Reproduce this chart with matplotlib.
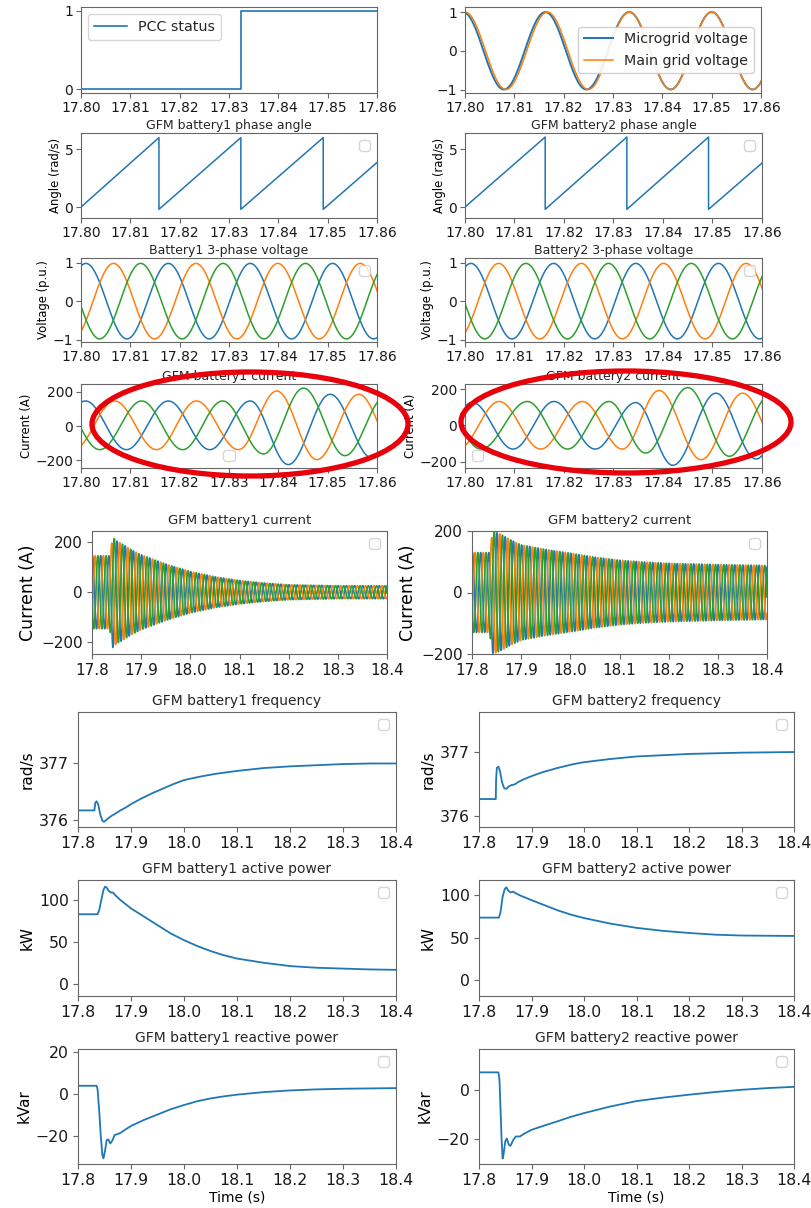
import matplotlib
matplotlib.use("Agg")
import matplotlib.pyplot as plt
import numpy as np
from matplotlib.patches import Ellipse

W, H = 812, 1208
BLUE, ORANGE, GREEN = "#1f77b4", "#ff7f0e", "#2ca02c"

# ---------------- zoomed window 17.80 - 17.86 s ----------------
pcc_t = [17.80, 17.8325, 17.8325, 17.86]
pcc_status = [0, 0, 1, 1]

# grid voltages: times of successive peaks / troughs
micro_t = [17.7913, 17.7996, 17.8079, 17.8163, 17.8246, 17.8333, 17.8417, 17.8500, 17.8583, 17.8667]
micro_v = [-1, 1, -1, 1, -1, 1, -1, 1, -1, 1]
main_t = [17.7917, 17.8000, 17.8083, 17.8167, 17.8250, 17.8333, 17.8417, 17.8500, 17.8583, 17.8667]
main_v = [-1, 1, -1, 1, -1, 1, -1, 1, -1, 1]

# phase angle sawtooth vertices
ang1_t = [17.80, 17.8158, 17.8158, 17.8324, 17.8324, 17.8491, 17.8491, 17.86]
ang1_v = [0.0, 6.0, -0.2, 6.0, -0.2, 6.0, -0.2, 3.85]
ang2_t = [17.80, 17.8162, 17.8162, 17.8327, 17.8327, 17.8492, 17.8492, 17.86]
ang2_v = [0.0, 6.05, -0.2, 6.05, -0.2, 6.05, -0.2, 3.8]

# 3-phase voltages (p.u.): extrema times, phases a/b/c
va1_t = [17.7927, 17.8010, 17.8093, 17.8177, 17.8260, 17.8343, 17.8427, 17.8510, 17.8593, 17.8677]
va1_v = [-0.98, 0.98, -0.98, 0.98, -0.98, 0.98, -0.98, 0.98, -0.98, 0.98]
vb1_t = [17.7983, 17.8066, 17.8149, 17.8233, 17.8316, 17.8399, 17.8483, 17.8566, 17.8649]
vb1_v = [-0.98, 0.98, -0.98, 0.98, -0.98, 0.98, -0.98, 0.98, -0.98]
vc1_t = [17.7955, 17.8038, 17.8121, 17.8205, 17.8288, 17.8371, 17.8455, 17.8538, 17.8621]
vc1_v = [0.98, -0.98, 0.98, -0.98, 0.98, -0.98, 0.98, -0.98, 0.98]

va2_t = [17.7929, 17.8012, 17.8095, 17.8179, 17.8262, 17.8345, 17.8429, 17.8512, 17.8595, 17.8679]
va2_v = [-0.98, 0.98, -0.98, 0.98, -0.98, 0.98, -0.98, 0.98, -0.98, 0.98]
vb2_t = [17.7985, 17.8068, 17.8151, 17.8235, 17.8318, 17.8401, 17.8485, 17.8568, 17.8651]
vb2_v = [-0.98, 0.98, -0.98, 0.98, -0.98, 0.98, -0.98, 0.98, -0.98]
vc2_t = [17.7957, 17.8040, 17.8123, 17.8207, 17.8290, 17.8373, 17.8457, 17.8540, 17.8623]
vc2_v = [0.98, -0.98, 0.98, -0.98, 0.98, -0.98, 0.98, -0.98, 0.98]

# 3-phase currents (A): extrema times and values
ia1_t = [17.7926, 17.8009, 17.8092, 17.8177, 17.8261, 17.8343, 17.8420, 17.8505, 17.8590, 17.8673]
ia1_v = [-138, 146, -138, 146, -138, 146, -225, 185, -187, 180]
ib1_t = [17.7985, 17.8068, 17.8153, 17.8234, 17.8319, 17.8397, 17.8478, 17.8563, 17.8646]
ib1_v = [-138, 146, -138, 146, -138, 204, -196, 185, -185]
ic1_t = [17.7955, 17.8038, 17.8123, 17.8206, 17.8287, 17.8370, 17.8451, 17.8535, 17.8618]
ic1_v = [146, -138, 146, -138, 146, -163, 221, -173, 175]

ia2_t = [17.7932, 17.8015, 17.8097, 17.8180, 17.8263, 17.8345, 17.8420, 17.8507, 17.8588, 17.8670]
ia2_v = [-131, 127, -131, 133, -131, 127, -221, 179, -186, 170]
ib2_t = [17.7986, 17.8069, 17.8153, 17.8237, 17.8318, 17.8392, 17.8477, 17.8561, 17.8644]
ib2_v = [-131, 133, -131, 133, -131, 194, -190, 179, -175]
ic2_t = [17.7949, 17.8032, 17.8126, 17.8207, 17.8291, 17.8365, 17.8450, 17.8534, 17.8617]
ic2_v = [133, -131, 133, -131, 133, -153, 210, -171, 170]

# ---------------- full window 17.8 - 18.4 s ----------------
f_line = 60.0          # Hz
ia_peak = 17.8009      # first phase-a peak
env1_t = [17.80, 17.836, 17.838, 17.842, 17.85, 17.86, 17.88, 17.90, 17.95, 18.00, 18.05, 18.10, 18.15, 18.20, 18.30, 18.40]
env1_a = [146, 146, 170, 222, 205, 195, 170, 150, 113, 83, 62, 47, 37, 30, 26, 26]
env2_t = [17.80, 17.836, 17.838, 17.842, 17.85, 17.86, 17.88, 17.90, 17.95, 18.00, 18.05, 18.10, 18.15, 18.20, 18.30, 18.40]
env2_a = [130, 130, 160, 198, 195, 188, 170, 155, 140, 128, 115, 105, 99, 95, 91, 88]

freq1_t = [17.80, 17.831, 17.8325, 17.835, 17.838, 17.842, 17.846, 17.849, 17.853, 17.858, 17.864, 17.87,
           17.88, 17.89, 17.90, 17.92, 17.94, 17.96, 17.98, 18.00, 18.03, 18.06, 18.10, 18.15, 18.20, 18.25,
           18.30, 18.35, 18.40]
freq1 = [376.17, 376.17, 376.30, 376.33, 376.28, 376.10, 375.99, 375.97, 376.00, 376.04, 376.08, 376.11,
         376.17, 376.22, 376.28, 376.38, 376.47, 376.55, 376.63, 376.70, 376.76, 376.81, 376.86, 376.91,
         376.94, 376.96, 376.98, 376.99, 376.99]
freq2_t = [17.80, 17.832, 17.8325, 17.834, 17.837, 17.840, 17.844, 17.848, 17.852, 17.857, 17.862, 17.868,
           17.875, 17.885, 17.90, 17.92, 17.95, 17.98, 18.00, 18.05, 18.10, 18.15, 18.20, 18.30, 18.40]
freq2 = [376.26, 376.26, 376.55, 376.75, 376.77, 376.70, 376.52, 376.43, 376.42, 376.46, 376.48, 376.49,
         376.53, 376.57, 376.62, 376.68, 376.75, 376.81, 376.84, 376.89, 376.93, 376.95, 376.97, 376.99, 377.00]

p1_t = [17.80, 17.837, 17.840, 17.844, 17.848, 17.851, 17.854, 17.858, 17.862, 17.866, 17.87, 17.88, 17.90,
        17.925, 17.95, 17.975, 18.00, 18.025, 18.05, 18.075, 18.10, 18.15, 18.20, 18.25, 18.30, 18.35, 18.40]
p1 = [83, 83, 88, 100, 112, 116, 115, 111, 109, 109, 106, 100, 90, 80, 70, 60, 52, 45, 39, 34, 30, 25, 21,
      19, 18, 17, 16.5]
p2_t = [17.80, 17.838, 17.841, 17.845, 17.849, 17.852, 17.856, 17.86, 17.865, 17.87, 17.88, 17.90, 17.925,
        17.95, 17.975, 18.00, 18.05, 18.10, 18.15, 18.20, 18.25, 18.30, 18.40]
p2 = [73.5, 73.5, 80, 98, 107, 109, 105, 103, 104, 102, 99, 94, 88, 82, 77, 73, 66.5, 61.5, 58, 55.5, 53.5,
      52.5, 52]

q1_t = [17.80, 17.835, 17.837, 17.840, 17.843, 17.846, 17.848, 17.851, 17.854, 17.857, 17.861, 17.865,
        17.869, 17.875, 17.88, 17.89, 17.90, 17.925, 17.95, 17.975, 18.00, 18.025, 18.05, 18.075, 18.10,
        18.15, 18.20, 18.25, 18.30, 18.40]
q1 = [3.8, 3.8, 2, -8, -20, -29, -30.5, -27, -22, -21.5, -23.5, -22, -19.5, -19, -18.5, -16.8, -15.2, -12.3,
      -9.8, -7.3, -5.3, -3.5, -2.2, -1.2, -0.4, 0.8, 1.6, 2.1, 2.4, 2.7]
q2_t = [17.80, 17.837, 17.839, 17.841, 17.843, 17.845, 17.847, 17.850, 17.853, 17.857, 17.86, 17.865, 17.87,
        17.878, 17.885, 17.90, 17.925, 17.95, 17.975, 18.00, 18.05, 18.10, 18.15, 18.20, 18.25, 18.30, 18.35,
        18.40]
q2 = [7.1, 7.1, 4, -8, -20, -28, -26, -21, -19.8, -22.5, -22.8, -20.5, -19, -19, -18, -16.3, -14.5, -12.8,
      -11, -9.5, -6.8, -4.6, -3.2, -2, -0.9, 0, 0.7, 1.2]

plt.rcParams["axes.edgecolor"] = "0.4"
plt.rcParams["text.color"] = "0.15"
plt.rcParams["xtick.color"] = "0.4"
plt.rcParams["ytick.color"] = "0.4"
plt.rcParams["xtick.labelcolor"] = "0.1"
plt.rcParams["ytick.labelcolor"] = "0.1"

fig = plt.figure(figsize=(W / 100, H / 100), dpi=100)


def box(x0, y0, x1, y1):
    return fig.add_axes([x0 / W, 1 - y1 / H, (x1 - x0) / W, (y1 - y0) / H])


def wave(ax, times, values, color, lw=1.1):
    # half-cosine between consecutive extrema
    ts, vs = [], []
    for i in range(len(times) - 1):
        s = np.linspace(0, 1, 60)
        t0, t1, v0, v1 = times[i], times[i + 1], values[i], values[i + 1]
        ts.append(t0 + (t1 - t0) * s)
        vs.append((v0 + v1) / 2 + (v0 - v1) / 2 * np.cos(np.pi * s))
    ax.plot(np.concatenate(ts), np.concatenate(vs), color=color, lw=lw)


def short_axis(ax, title=None, ylabel=None):
    ax.set_xlim(17.80, 17.86)
    ax.set_xticks(np.arange(17.80, 17.861, 0.01))
    ax.set_xticklabels(["%.2f" % v for v in np.arange(17.80, 17.861, 0.01)])
    ax.tick_params(labelsize=10, pad=2)
    if title:
        ax.set_title(title, fontsize=9, pad=3)
    if ylabel:
        ax.set_ylabel(ylabel, fontsize=8.4, labelpad=2)


def long_axis(ax, title, ylabel, tsize=10, lsize=11, ysize=11):
    ax.set_xlim(17.8, 18.4)
    ax.set_xticks(np.arange(17.8, 18.41, 0.1))
    ax.set_xticklabels(["%.1f" % v for v in np.arange(17.8, 18.41, 0.1)])
    ax.tick_params(labelsize=lsize, pad=3)
    ax.set_title(title, fontsize=tsize, pad=5)
    ax.set_ylabel(ylabel, fontsize=ysize, labelpad=3)
    ax.legend(handles=[], loc="upper right")


# row 1
ax = box(81, 7, 377, 93)
ax.plot(pcc_t, pcc_status, color=BLUE, lw=1.2, label="PCC status")
ax.set_yticks([0, 1])
ax.legend(loc="upper left", fontsize=10.3, handlelength=2.3)
short_axis(ax)

ax = box(465, 7, 761, 93)
wave(ax, micro_t, micro_v, BLUE, 1.4)
wave(ax, main_t, main_v, ORANGE, 1.1)
ax.lines[0].set_label("Microgrid voltage")
ax.lines[1].set_label("Main grid voltage")
ax.set_ylim(-1.09, 1.13)
ax.set_yticks([-1, 0, 1])
ax.legend(loc="center right", fontsize=10.3, framealpha=0.9)
short_axis(ax)

# row 2
for x0, x1, tt, vv, name in [(81, 377, ang1_t, ang1_v, "GFM battery1 phase angle"),
                             (465, 762, ang2_t, ang2_v, "GFM battery2 phase angle")]:
    ax = box(x0, 133, x1, 218)
    ax.plot(tt, vv, color=BLUE, lw=1.1)
    ax.set_ylim(-0.95, 6.4)
    ax.set_yticks([0, 5])
    ax.legend(handles=[], loc="upper right")
    short_axis(ax, name, "Angle (rad/s)")

# row 3
for x0, x1, pa, pb, pc, name in [(81, 377, (va1_t, va1_v), (vb1_t, vb1_v), (vc1_t, vc1_v), "Battery1 3-phase voltage"),
                                 (465, 762, (va2_t, va2_v), (vb2_t, vb2_v), (vc2_t, vc2_v), "Battery2 3-phase voltage")]:
    ax = box(x0, 258, x1, 342)
    wave(ax, *pa, BLUE)
    wave(ax, *pb, ORANGE)
    wave(ax, *pc, GREEN)
    ax.set_ylim(-1.06, 1.12)
    ax.set_yticks([-1, 0, 1])
    ax.legend(handles=[], loc="upper right")
    short_axis(ax, name, "Voltage (p.u.)")

# row 4
for x0, x1, pa, pb, pc, name, ylim, loc in [
        (81, 377, (ia1_t, ia1_v), (ib1_t, ib1_v), (ic1_t, ic1_v), "GFM battery1 current", (-245, 245), "lower center"),
        (465, 762, (ia2_t, ia2_v), (ib2_t, ib2_v), (ic2_t, ic2_v), "GFM battery2 current", (-236, 230), "lower left")]:
    ax = box(x0, 384, x1, 468)
    wave(ax, *pa, BLUE)
    wave(ax, *pb, ORANGE)
    wave(ax, *pc, GREEN)
    ax.set_ylim(*ylim)
    ax.set_yticks([-200, 0, 200])
    ax.legend(handles=[], loc=loc)
    short_axis(ax, name, "Current (A)")

# row 5: currents over the full window
t = np.arange(17.8, 18.4, 0.00005)
for x0, x1, et, ea, name, ylim in [(92, 387, env1_t, env1_a, "GFM battery1 current", (-247, 245)),
                                   (472, 767, env2_t, env2_a, "GFM battery2 current", (-200, 200))]:
    ax = box(x0, 531, x1, 654)
    amp = np.interp(t, et, ea)
    for k, c in enumerate([BLUE, ORANGE, GREEN]):
        ax.plot(t, amp * np.cos(2 * np.pi * f_line * (t - ia_peak) - 2 * np.pi * k / 3), color=c, lw=1.2)
    ax.set_ylim(*ylim)
    ax.set_yticks([-200, 0, 200])
    long_axis(ax, name, "Current (A)", tsize=9.5, lsize=11, ysize=12.5)

# rows 6-8
panels = [
    (712, 827, 78, 396, freq1_t, freq1, "GFM battery1 frequency", "rad/s", (375.88, 377.89), [376, 377]),
    (712, 827, 479, 794, freq2_t, freq2, "GFM battery2 frequency", "rad/s", (375.82, 377.63), [376, 377]),
    (880, 996, 78, 396, p1_t, p1, "GFM battery1 active power", "kW", (-14.8, 124), [0, 50, 100]),
    (880, 996, 479, 794, p2_t, p2, "GFM battery2 active power", "kW", (-18.4, 117.6), [0, 50, 100]),
    (1049, 1164, 78, 396, q1_t, q1, "GFM battery1 reactive power", "kVar", (-33.2, 21.2), [-20, 0, 20]),
    (1049, 1164, 479, 794, q2_t, q2, "GFM battery2 reactive power", "kVar", (-30.2, 16.6), [-20, 0]),
]
for y0, y1, x0, x1, tt, vv, name, unit, ylim, yt in panels:
    ax = box(x0, y0, x1, y1)
    ax.plot(tt, vv, color=BLUE, lw=1.3)
    ax.set_ylim(*ylim)
    ax.set_yticks(yt)
    long_axis(ax, name, unit, tsize=10, lsize=11.3, ysize=11)
    if y0 > 1000:
        ax.set_xlabel("Time (s)", fontsize=10, labelpad=2)

# red highlight rings around the zoomed current traces
over = fig.add_axes([0, 0, 1, 1])
over.set_xlim(0, W)
over.set_ylim(H, 0)
over.axis("off")
over.patch.set_alpha(0)
over.add_patch(Ellipse((250, 424), 316, 104, fill=False, ec="#e8000b", lw=3.8))
over.add_patch(Ellipse((626, 422), 330, 102, fill=False, ec="#e8000b", lw=3.8))

fig.savefig("out.png", dpi=100)
